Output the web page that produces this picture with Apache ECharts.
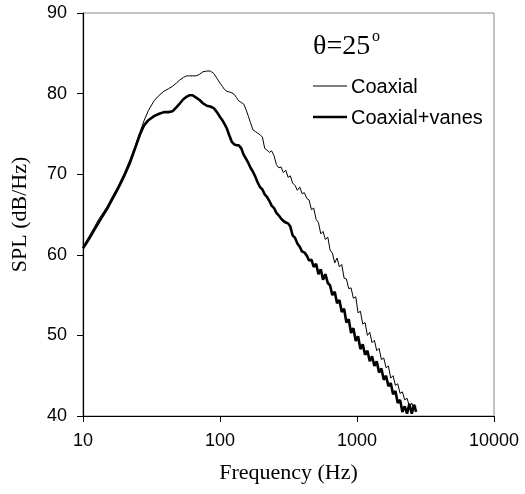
<!DOCTYPE html>
<html>
<head>
<meta charset="utf-8">
<script src="https://cdn.jsdelivr.net/npm/echarts@6/dist/echarts.min.js"></script>
<style>
    html, body { margin: 0; padding: 0; background: #fff; }
    #chart { width: 525px; height: 494px; }
</style>
</head>
<body>
<div id="chart"></div>
<script>
var freq = [10, 11, 12, 13, 14, 15, 16, 18, 20, 22, 24, 26, 28, 30, 33, 36, 39, 42, 45, 48,
    51, 54, 57, 60, 63, 67, 71, 75, 80, 85, 90, 95, 100,
    104, 108, 112, 117, 122, 127, 132, 137, 143, 149,
    155, 161, 167, 174, 181, 188, 196, 204, 212, 220,
    229, 238, 248, 258, 268, 279, 290, 302, 314, 326,
    339, 353, 367, 382, 397, 413, 430, 447, 465, 483,
    503, 523, 544, 565, 588, 612, 636, 661, 688, 715,
    744, 774, 805, 837, 870, 905, 941, 979, 1018, 1059,
    1101, 1145, 1191, 1239, 1288, 1340, 1393, 1449, 1507, 1567,
    1630, 1695, 1763, 1834, 1907, 1983, 2063, 2145, 2231, 2320,
    2413, 2510, 2610, 2700];

var coaxial = [61.0, 62.2, 63.3, 64.4, 65.2, 66.0, 66.9, 68.5, 70.1, 71.8, 73.5, 75.2, 76.7, 77.9, 79.1, 79.8, 80.3, 80.6, 80.9, 81.3,
    81.7, 82.0, 82.2, 82.2, 82.2, 82.2, 82.4, 82.7, 82.8, 82.8, 82.5, 81.9, 81.3,
    80.9, 80.5, 80.3, 80.2, 80.1, 79.9, 79.5, 79.1, 78.9, 78.7,
    78.0, 77.2, 76.4, 75.5, 75.3, 75.1, 74.9, 74.6, 73.2, 73.0,
    72.7, 72.9, 72.3, 71.2, 70.8, 70.9, 70.2, 70.5, 69.6, 69.8,
    68.9, 68.6, 68.0, 68.4, 67.6, 67.7, 67.0, 66.8, 65.6, 65.8,
    64.4, 64.0, 62.6, 62.9, 61.9, 62.2, 60.6, 60.2, 59.0, 59.6,
    58.5, 58.8, 57.1, 57.0, 55.8, 55.9, 54.6, 54.8, 52.8, 53.0,
    51.4, 51.6, 50.0, 50.4, 49.1, 49.4, 48.1, 48.4, 47.0, 47.2,
    46.0, 46.2, 44.7, 45.0, 43.8, 44.0, 42.8, 43.0, 42.0, 42.2,
    41.2, 41.6, 40.8, 41.2];

var coaxialVanes = [60.8, 61.9, 63.0, 64.0, 64.9, 65.7, 66.6, 68.2, 69.8, 71.4, 73.2, 74.9, 76.1, 76.7, 77.2, 77.5, 77.7, 77.7, 77.8, 78.3,
    78.8, 79.3, 79.6, 79.8, 79.8, 79.5, 79.2, 78.8, 78.5, 78.4, 78.2, 77.7, 77.1,
    76.7, 76.2, 75.7, 74.8, 74.0, 73.7, 73.6, 73.6, 73.2, 72.4,
    71.9, 71.4, 70.8, 70.3, 69.7, 69.0, 68.4, 68.1, 67.5, 67.2,
    66.7, 66.1, 65.8, 65.2, 64.9, 64.5, 64.2, 64.0, 63.9, 63.5,
    62.4, 62.1, 61.4, 61.0, 60.4, 60.3, 59.9, 59.3, 59.4, 58.5,
    58.9, 57.6, 58.2, 56.9, 57.6, 56.5, 56.2, 55.0, 55.4, 54.0,
    54.4, 52.9, 53.3, 51.6, 52.0, 50.3, 50.9, 49.3, 49.9, 48.3,
    48.9, 47.6, 48.1, 46.8, 47.4, 46.2, 46.8, 45.4, 45.9, 44.5,
    45.0, 43.7, 44.1, 42.7, 43.1, 41.6, 42.0, 40.5, 41.2, 40.3,
    41.5, 40.3, 41.4, 40.5];

var seriesNames = ['Coaxial', 'Coaxial+vanes'];
var seriesWidths = [1, 2.6];

function pairs(ys) {
    var out = [];
    for (var i = 0; i < freq.length; i++) {
        out.push([freq[i], ys[i]]);
    }
    return out;
}

var myChart = echarts.init(document.getElementById('chart'));

var labelFont = 'Liberation Sans, Arial, sans-serif';
var serifFont = 'Liberation Serif, Times New Roman, serif';

// legend drawn by hand: two line samples with their names
var legendItems = [];
for (var k = 0; k < seriesNames.length; k++) {
    var ly = 86 + k * 31;
    legendItems.push({
        type: 'line',
        shape: { x1: 313, y1: ly, x2: 347, y2: ly },
        style: { stroke: '#000', lineWidth: seriesWidths[k] }
    });
    legendItems.push({
        type: 'text',
        x: 351,
        y: ly + 1,
        style: {
            text: seriesNames[k], fill: '#000', fontSize: 20, fontFamily: labelFont,
            verticalAlign: 'middle'
        }
    });
}

var option = {
    animation: false,
    backgroundColor: '#fff',
    grid: {
        left: 83,
        right: 31,
        top: 13,
        bottom: 78,
        show: true,
        borderColor: '#888',
        borderWidth: 1
    },
    graphic: [
        {
            type: 'text',
            x: 313,
            y: 47,
            style: {
                text: 'θ=25', fill: '#000', fontSize: 28, fontFamily: serifFont,
                verticalAlign: 'middle'
            }
        },
        {
            type: 'text',
            x: 372,
            y: 37,
            style: {
                text: 'o', fill: '#000', fontSize: 16, fontFamily: serifFont,
                verticalAlign: 'middle'
            }
        }
    ].concat(legendItems),
    xAxis: {
        type: 'log',
        logBase: 10,
        min: 10,
        max: 10000,
        name: 'Frequency (Hz)',
        nameLocation: 'middle',
        nameGap: 46,
        nameTextStyle: { color: '#000', fontSize: 22, fontFamily: serifFont },
        axisLine: { lineStyle: { color: '#000', width: 1.2 } },
        axisTick: { show: true, length: 6, lineStyle: { color: '#000' } },
        minorTick: { show: false },
        axisLabel: {
            color: '#000', fontSize: 18, fontFamily: labelFont, margin: 16,
            formatter: function(v) { return String(Math.round(v)); }
        },
        splitLine: { show: false }
    },
    yAxis: {
        type: 'value',
        min: 40,
        max: 90,
        interval: 10,
        name: 'SPL (dB/Hz)',
        nameLocation: 'middle',
        nameGap: 52,
        nameTextStyle: { color: '#000', fontSize: 22, fontFamily: serifFont },
        axisLine: { show: true, lineStyle: { color: '#000', width: 1.2 } },
        axisTick: { show: true, length: 6, lineStyle: { color: '#000' } },
        axisLabel: { color: '#000', fontSize: 18, fontFamily: labelFont, margin: 16 },
        splitLine: { show: false }
    },
    series: [
        {
            name: seriesNames[0],
            type: 'line',
            data: pairs(coaxial),
            showSymbol: false,
            symbol: 'none',
            color: '#000',
            lineStyle: { color: '#000', width: seriesWidths[0] }
        },
        {
            name: seriesNames[1],
            type: 'line',
            data: pairs(coaxialVanes),
            showSymbol: false,
            symbol: 'none',
            color: '#000',
            lineStyle: { color: '#000', width: seriesWidths[1] }
        }
    ]
};

myChart.setOption(option);
</script>
</body>
</html>
